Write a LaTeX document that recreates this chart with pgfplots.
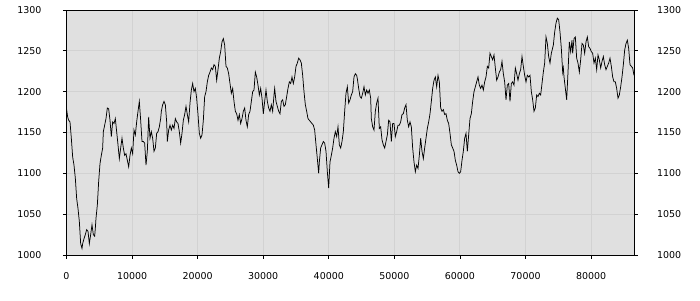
\documentclass[border=0pt]{standalone}
\usepackage{pgfplots}
\pgfplotsset{compat=1.18}
\usepackage{fontspec}
\setmainfont{DejaVu Sans}
\definecolor{bgc}{HTML}{E0E0E0}
\definecolor{gridc}{HTML}{D2D2D2}
\pgfplotstableread{
x y
0 1179
178 1169
330 1165
534 1163
737 1143
941 1120
1144 1110
1347 1094
1551 1069
1754 1057
1957 1041
2161 1014
2364 1008
2466 1014
2669 1020
2872 1025
3076 1031
3279 1029
3482 1014
3685 1025
3889 1037
4092 1025
4295 1023
4397 1033
4499 1045
4702 1061
4905 1090
5109 1112
5312 1122
5516 1131
5617 1151
5820 1159
6024 1167
6227 1180
6430 1179
6634 1165
6837 1145
7040 1163
7244 1161
7447 1167
7650 1151
7854 1135
8057 1118
8260 1131
8464 1143
8667 1131
8870 1122
9074 1124
9277 1116
9480 1108
9684 1122
9887 1131
10090 1124
10294 1153
10497 1147
10700 1163
10904 1176
11107 1188
11310 1165
11514 1139
11717 1139
11920 1137
12124 1110
12327 1127
12530 1169
12734 1143
12937 1151
13140 1143
13344 1127
13547 1131
13750 1149
13954 1151
14157 1157
14360 1167
14462 1176
14666 1184
14869 1188
15072 1184
15275 1163
15377 1139
15580 1153
15784 1159
15987 1153
16190 1159
16394 1155
16597 1167
16800 1163
17004 1161
17207 1151
17410 1137
17614 1149
17817 1165
18020 1172
18224 1182
18427 1172
18630 1163
18834 1186
19037 1202
19240 1210
19444 1200
19647 1204
19850 1192
20054 1172
20257 1149
20460 1143
20664 1147
20867 1165
21070 1194
21274 1200
21477 1212
21680 1220
21884 1224
22087 1229
22290 1227
22494 1233
22697 1231
22900 1214
23104 1227
23307 1241
23510 1249
23714 1261
23917 1265
24120 1257
24324 1231
24527 1229
24730 1222
24934 1210
25137 1198
25340 1204
25544 1188
25747 1176
25950 1173
26154 1165
26357 1172
26560 1161
26764 1167
26967 1176
27170 1180
27374 1165
27577 1157
27780 1172
27984 1176
28187 1188
28390 1200
28594 1202
28797 1224
29000 1218
29204 1208
29407 1196
29610 1204
29814 1192
30017 1173
30220 1188
30424 1202
30627 1188
30830 1180
31034 1176
31237 1184
31440 1176
31644 1196
31745 1204
31948 1188
32152 1182
32355 1176
32558 1173
32762 1188
32965 1190
33168 1182
33372 1184
33575 1194
33778 1204
33982 1212
34185 1210
34388 1218
34592 1210
34795 1218
34998 1231
35202 1235
35405 1241
35608 1239
35812 1235
36015 1220
36218 1200
36422 1184
36625 1176
36828 1167
37032 1165
37235 1163
37438 1161
37642 1159
37845 1153
38048 1135
38252 1118
38455 1100
38557 1114
38760 1131
38963 1135
39167 1139
39370 1137
39573 1127
39777 1102
39980 1082
40183 1114
40387 1122
40590 1131
40793 1143
40997 1151
41200 1145
41403 1157
41607 1135
41810 1131
42013 1139
42217 1151
42420 1176
42623 1198
42827 1206
43030 1186
43233 1190
43437 1196
43640 1200
43843 1218
44047 1222
44250 1220
44352 1216
44556 1204
44759 1194
44962 1192
45166 1198
45369 1206
45572 1196
45776 1202
45979 1198
46182 1202
46386 1192
46487 1167
46690 1157
46894 1153
47097 1176
47300 1186
47504 1192
47707 1155
47910 1157
48114 1141
48317 1135
48520 1131
48724 1139
48927 1147
49130 1165
49334 1163
49537 1139
49740 1161
49944 1161
50147 1145
50350 1151
50554 1159
50757 1159
50960 1163
51164 1172
51367 1173
51570 1180
51774 1184
51977 1165
52180 1157
52384 1163
52587 1157
52790 1131
52994 1114
53197 1102
53400 1110
53604 1106
53807 1122
54010 1143
54214 1127
54417 1118
54620 1131
54824 1143
55027 1155
55230 1163
55434 1173
55637 1188
55840 1204
56044 1214
56247 1218
56450 1206
56654 1220
56857 1212
57060 1180
57264 1176
57467 1178
57670 1172
57874 1173
58077 1165
58280 1161
58484 1149
58687 1135
58890 1131
59094 1127
59297 1116
59500 1110
59704 1102
59907 1100
60110 1102
60314 1116
60517 1127
60720 1143
60924 1149
61127 1127
61330 1147
61534 1167
61737 1173
61940 1188
62144 1200
62347 1206
62550 1212
62754 1218
62957 1208
63160 1204
63364 1208
63567 1202
63770 1212
63974 1218
64177 1231
64380 1229
64584 1247
64787 1243
64990 1239
65194 1245
65397 1229
65600 1214
65804 1218
66007 1224
66210 1227
66414 1237
66617 1222
66820 1212
67024 1190
67227 1208
67430 1210
67634 1188
67837 1210
68040 1212
68244 1208
68447 1229
68650 1222
68854 1214
69057 1222
69260 1227
69464 1243
69667 1231
69870 1220
70074 1212
70277 1220
70480 1218
70684 1220
70887 1200
71090 1190
71294 1176
71497 1180
71700 1196
71904 1194
72107 1198
72310 1196
72514 1210
72717 1224
72920 1235
73124 1267
73327 1259
73530 1243
73734 1235
73937 1247
74242 1257
74446 1273
74649 1284
74852 1290
75056 1288
75259 1273
75462 1253
75666 1224
75767 1229
75869 1218
76072 1204
76276 1190
76479 1224
76682 1261
76886 1249
77089 1263
77190 1247
77394 1265
77597 1267
77800 1241
78004 1235
78207 1224
78410 1239
78614 1259
78817 1257
79020 1247
79224 1261
79427 1267
79630 1255
79834 1253
80037 1249
80240 1247
80444 1235
80647 1241
80850 1227
81054 1245
81257 1239
81460 1229
81664 1237
81867 1243
82070 1233
82274 1227
82477 1231
82680 1235
82884 1241
83087 1231
83290 1218
83494 1212
83697 1212
83900 1204
84104 1192
84307 1196
84510 1206
84714 1218
84917 1233
85120 1251
85324 1259
85527 1263
85730 1253
85934 1233
86137 1231
86340 1229
86544 1220
}\datatable
\pgfplotsset{
  common/.style={
    width=567.5bp, height=245bp, scale only axis,
    xmin=0, xmax=86544, ymin=1000, ymax=1300,
    axis background/.style={fill=bgc},
    axis line style={black, line width=0.9bp},
    tick style={black, line width=0.8bp},
    major tick length=3.5bp,
    tick align=outside,
    xtick={0,10000,...,80000},
    ytick={1000,1050,...,1300},
    scaled ticks=false,
    /pgf/number format/.cd, fixed, 1000 sep={}, assume math mode=true, /pgfplots/.cd,
    tick label style={font=\fontsize{9.5}{11}\selectfont},
  }
}
\begin{document}
\begin{tikzpicture}
\begin{axis}[common,
    name=main,
    grid=major,
    grid style={gridc, line width=0.9bp},
    xtick pos=bottom, ytick pos=left,
    yticklabel shift=18bp,
    xticklabel shift=10bp,
  ]
  \addplot[black, line width=0.75bp, mark=none] table[x=x,y=y] {\datatable};
\end{axis}
\begin{axis}[common,
    axis background/.style={},
    axis x line=none,
    axis y line*=right,
    ytick pos=right,
    yticklabel pos=right,
    yticklabel shift=16bp,
  ]
\end{axis}
\path ([xshift=-66.5bp,yshift=-45bp]main.south west) rectangle ([xshift=66bp,yshift=10bp]main.north east);
\end{tikzpicture}
\end{document}
